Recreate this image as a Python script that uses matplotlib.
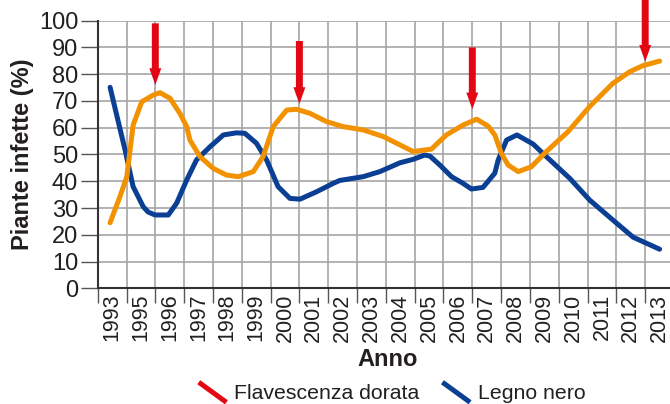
import numpy as np
import matplotlib
matplotlib.use("Agg")
from matplotlib import pyplot as plt
from matplotlib.lines import Line2D
from matplotlib.legend_handler import HandlerBase

# etichette dell'asse x (manca il 1994)
anni = ["1993", "1995", "1996", "1997", "1998", "1999", "2000", "2001", "2002", "2003",
        "2004", "2005", "2006", "2007", "2008", "2009", "2010", "2011", "2012", "2013"]

# Legno nero (posizione in colonne, 0 = 1993)
legno_x = [-0.07, 0.2, 0.45, 0.73, 1.08, 1.25, 1.49, 1.95, 2.24, 2.59, 2.93, 3.4, 3.86, 4.32,
           4.61, 5.01, 5.36, 5.76, 6.17, 6.52, 7.1, 7.67, 7.9, 8.71, 9.29, 9.99, 10.45, 10.85,
           11.03, 11.37, 11.78, 12.18, 12.47, 12.87, 13.28, 13.4, 13.69, 14.05, 14.61, 15.07,
           15.88, 16.57, 17.38, 18.08, 19.0]
legno_y = [75.1, 62.9, 51.7, 38.0, 30.5, 28.5, 27.4, 27.4, 31.8, 40.5, 48.0, 52.9, 57.3, 58.1,
           57.9, 54.2, 48.0, 38.0, 33.6, 33.3, 36.1, 39.2, 40.3, 41.7, 43.6, 46.9, 48.2, 49.8,
           49.4, 46.1, 41.7, 39.2, 37.1, 37.7, 43.0, 48.0, 55.4, 57.3, 53.9, 49.2,
           41.1, 33.0, 25.5, 19.1, 14.6]

# Flavescenza dorata
flav_x = [-0.07, 0.27, 0.51, 0.73, 1.03, 1.43, 1.66, 2.01, 2.35, 2.59, 2.7, 3.05, 3.51, 3.97,
          4.38, 4.9, 5.24, 5.59, 6.06, 6.4, 6.86, 7.44, 8.02, 8.71, 9.41, 10.45, 11.08, 11.6,
          12.18, 12.65, 13.05, 13.28, 13.51, 13.74, 14.09, 14.55, 15.07, 15.82, 16.57, 17.38,
          17.96, 18.42, 19.0]
flav_y = [24.5, 34.2, 41.7, 61.0, 69.7, 72.2, 73.1, 71.0, 65.4, 60.4, 55.4, 49.2, 44.8, 42.3,
          41.7, 43.6, 49.2, 60.4, 66.6, 66.9, 65.4, 62.3, 60.4, 59.2, 56.7, 51.1, 52.0, 57.3,
          61.0, 63.2, 60.6, 57.3, 50.4, 46.1, 43.6, 45.4, 51.1, 58.5, 67.9, 76.6,
          80.9, 83.2, 84.9]

# frecce rosse: posizione, punta, coda
frecce_x = [1.5, 6.5, 12.5, 18.5]
frecce_punta = [76.0, 68.9, 66.9, 84.7]
frecce_coda = [99.0, 92.4, 90.0, 112.0]

blu = "#0b3f93"
arancio = "#f39200"
rosso = "#e30613"
testo = "#231f20"
font = "Liberation Sans"


class DiagonaleHandler(HandlerBase):
    # il simbolo della legenda e' un trattino obliquo
    def create_artists(self, legend, orig_handle, xdescent, ydescent,
                       width, height, fontsize, trans):
        line = Line2D([-xdescent, -xdescent + width], [height * 1.1, -height * 0.25],
                      color=orig_handle.get_color(), lw=orig_handle.get_linewidth(),
                      transform=trans, solid_capstyle="butt")
        return [line]


fig = plt.figure(figsize=(6.7, 4.04), dpi=100)
ax = fig.add_axes([0.1458, 0.2864, 0.8602, 0.6624])

ax.plot(legno_x, legno_y, color=blu, lw=3.6, solid_joinstyle="round", solid_capstyle="round", zorder=3)
ax.plot(flav_x, flav_y, color=arancio, lw=3.6, solid_joinstyle="round", solid_capstyle="round", zorder=4)

for x, punta, coda in zip(frecce_x, frecce_punta, frecce_coda):
    ax.annotate("", xy=(x, punta), xytext=(x, coda), annotation_clip=False,
                arrowprops=dict(arrowstyle="simple,head_length=12,head_width=8.6,tail_width=5",
                                mutation_scale=1, color=rosso, shrinkA=0, shrinkB=0,
                                lw=0, clip_on=False), zorder=5)

ax.set_xlim(-0.5, 19.5)
ax.set_ylim(0, 100)
ax.set_xticks(range(len(anni)))
ax.set_xticklabels(anni, rotation=90, fontsize=15.5, family=font, color=testo)
ax.set_xticks(np.arange(-0.5, 20, 1), minor=True)
ax.set_yticks(range(0, 101, 10))
ax.set_yticklabels([str(v) for v in range(0, 101, 10)], fontsize=17, family=font, color=testo)

ax.tick_params(axis="x", which="major", length=0, pad=4)
ax.tick_params(axis="x", which="minor", length=11, width=1, color="#555555")
ax.tick_params(axis="y", length=12, width=1, color="#555555", pad=2)

ax.grid(True, axis="x", which="minor", color="#a6a6a6", lw=1.2)
ax.grid(True, axis="y", which="major", color="#a6a6a6", lw=1.2)
ax.set_axisbelow(True)

for s in ["top", "right"]:
    ax.spines[s].set_visible(False)
for s in ["left", "bottom"]:
    ax.spines[s].set_color("#333333")
    ax.spines[s].set_linewidth(1.5)

fig.text(0.034, 0.618, "Piante infette (%)", rotation=90, ha="center", va="center",
         fontsize=17, fontweight="bold", family=font, color=testo)
fig.text(0.579, 0.109, "Anno", ha="center", va="center",
         fontsize=17, fontweight="bold", family=font, color=testo)

maniglie = [Line2D([], [], color=rosso, lw=3.6), Line2D([], [], color=blu, lw=3.6)]
fig.legend(maniglie, ["Flavescenza dorata", "Legno nero"], loc="center",
           bbox_to_anchor=(0.585, 0.027), ncol=2, frameon=False,
           handler_map={Line2D: DiagonaleHandler()},
           prop={"family": font, "size": 15.3}, labelcolor=testo,
           handlelength=1.3, handletextpad=0.35, columnspacing=1.1,
           borderpad=0, borderaxespad=0)

fig.savefig("out.png", dpi=100)
